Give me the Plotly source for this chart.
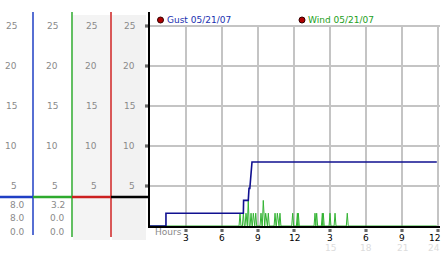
import plotly.graph_objects as go

W, H = 442, 253

# ---------------- data ----------------
gust_hours = [0, 1.33, 1.33, 7.78, 7.80, 8.19, 8.25, 8.32, 8.50, 23.9]
gust_vals = [0, 0, 1.6, 1.6, 3.2, 3.2, 4.7, 4.7, 8.0, 8.0]

wind_spike_hours = [7.5, 7.78, 8.0, 8.19, 8.42, 8.61, 8.81, 9.25, 9.44, 9.64, 9.86,
                    10.42, 10.61, 10.83, 11.89, 12.28, 12.36, 13.75, 13.89, 14.36,
                    14.44, 15.0, 15.42, 16.44]
wind_spike_vals = [1.6, 1.6, 1.6, 3.2, 1.6, 1.6, 1.6, 1.6, 3.2, 1.6, 1.6,
                   1.6, 1.6, 1.6, 1.6, 1.6, 1.6, 1.6, 1.6, 1.6,
                   1.6, 1.6, 1.6, 1.6]
wind_end_hour = 23.9

y_ticks = [5, 10, 15, 20, 25]
x_ticks = [3, 6, 9, 12, 15, 18, 21, 24]
x_tick_text = ["3", "6", "9", "12", "3", "6", "9", "12"]
x_sub_ticks = [15, 18, 21, 24]
x_sub_text = ["15", "18", "21", "24"]

gust_stats = ["8.0", "8.0", "0.0"]
wind_stats = ["3.2", "0.0", "0.0"]

legend_gust = "Gust 05/21/07"
legend_wind = "Wind 05/21/07"

# ---------------- helpers ----------------
def px(x):
    return x / W

def py(y):
    return 1 - y / H

# build wind line from spikes
spike_w = 0.08
wx, wy = [0], [0]
for t, v in zip(wind_spike_hours, wind_spike_vals):
    wx += [t - spike_w, t, t + spike_w]
    wy += [0, v, 0]
wx.append(wind_end_hour)
wy.append(0)

GRID = "#c4c4c4"
LBL = "#8a8a8a"
BLUE = "#1f3fc4"
GREEN = "#2eaa2e"
RED = "#cc2020"
FONT = "DejaVu Sans"
XMAX = 290 / 12

fig = go.Figure()
fig.add_trace(go.Scatter(x=wx, y=wy, mode="lines",
                         line=dict(color="#33b333", width=1), hoverinfo="skip"))
fig.add_trace(go.Scatter(x=gust_hours, y=gust_vals, mode="lines",
                         line=dict(color="#101090", width=1.6), hoverinfo="skip"))

shapes = []
# vertical grid lines from 0 to 25
for t in x_ticks:
    shapes.append(dict(type="line", xref="x", yref="y", x0=t, x1=t, y0=0, y1=max(y_ticks),
                       line=dict(color=GRID, width=2), layer="below"))
# tick glyphs (small checkered marks)
for v in y_ticks:
    shapes.append(dict(type="rect", xref="paper", yref="y", x0=px(145), x1=px(148),
                       y0=v - 0.2, y1=v + 0.2, fillcolor="#6a6a6a", line=dict(width=0)))
for t in x_ticks:
    shapes.append(dict(type="rect", xref="x", yref="paper", x0=t - 0.13, x1=t + 0.13,
                       y0=py(232), y1=py(229), fillcolor="#6a6a6a", line=dict(width=0)))

# left panel backgrounds
shapes.append(dict(type="rect", xref="paper", yref="paper", x0=px(73), x1=px(110),
                   y0=py(240), y1=py(15), fillcolor="#f4f4f4", line=dict(width=0), layer="below"))
shapes.append(dict(type="rect", xref="paper", yref="paper", x0=px(112), x1=px(146),
                   y0=py(240), y1=py(15), fillcolor="#f2f2f2", line=dict(width=0), layer="below"))
# column separators
for xx, col, yb in [(33, BLUE, 235), (72, GREEN, 237), (111, RED, 237)]:
    shapes.append(dict(type="line", xref="paper", yref="paper", x0=px(xx), x1=px(xx),
                       y0=py(yb), y1=py(12), line=dict(color=col, width=1.5)))
# horizontal marker bars
for x0, x1, col in [(0, 33, BLUE), (33, 72, GREEN), (72, 111, RED), (111, 150, "#000")]:
    shapes.append(dict(type="line", xref="paper", yref="paper", x0=px(x0), x1=px(x1),
                       y0=py(197), y1=py(197), line=dict(color=col, width=2.5)))
# legend dots
for cx in [160.5, 302]:
    shapes.append(dict(type="circle", xref="paper", yref="paper",
                       x0=px(cx - 3), x1=px(cx + 3), y0=py(23), y1=py(17),
                       fillcolor="#b00000", line=dict(color="#300", width=1)))

ann = []
# left panel y labels
for xr in [19, 60, 99, 137]:
    for v in y_ticks:
        ann.append(dict(xref="paper", yref="y", x=px(xr), y=v, text=str(v),
                        xanchor="right", yanchor="middle", showarrow=False,
                        font=dict(family=FONT, size=9, color=LBL)))
# stats
for xr, vals in [(27, gust_stats), (67, wind_stats)]:
    for yy, s in zip([205, 218, 232], vals):
        ann.append(dict(xref="paper", yref="paper", x=px(xr), y=py(yy), text=s,
                        xanchor="right", yanchor="middle", showarrow=False,
                        font=dict(family=FONT, size=9, color=LBL)))
# x tick labels (last one kept inside the page)
for t, s in zip(x_ticks, x_tick_text):
    last = t == x_ticks[-1]
    ann.append(dict(xref="paper" if last else "x", yref="paper",
                    x=1.0 if last else t, y=py(238), text=s,
                    xanchor="right" if last else "center", yanchor="middle", showarrow=False,
                    font=dict(family=FONT, size=9, color="#000")))
for t, s in zip(x_sub_ticks, x_sub_text):
    last = t == x_sub_ticks[-1]
    ann.append(dict(xref="paper" if last else "x", yref="paper",
                    x=1.0 if last else t, y=py(248), text=s,
                    xanchor="right" if last else "center", yanchor="middle", showarrow=False,
                    font=dict(family=FONT, size=9, color="#dcdcdc")))
ann.append(dict(xref="paper", yref="paper", x=px(153), y=py(232), text="Hours",
                xanchor="left", yanchor="middle", showarrow=False,
                font=dict(family=FONT, size=9, color=LBL)))
# legend texts
ann.append(dict(xref="paper", yref="paper", x=px(165), y=py(20), text=legend_gust,
                xanchor="left", yanchor="middle", showarrow=False,
                font=dict(family=FONT, size=9, color="#2030b0")))
ann.append(dict(xref="paper", yref="paper", x=px(306), y=py(20), text=legend_wind,
                xanchor="left", yanchor="middle", showarrow=False,
                font=dict(family=FONT, size=9, color="#22a022")))

fig.update_layout(
    width=W, height=H, margin=dict(l=0, r=0, t=0, b=0),
    paper_bgcolor="white", plot_bgcolor="white", showlegend=False,
    shapes=shapes, annotations=ann,
    xaxis=dict(domain=[px(150), px(440)], range=[0, XMAX], showgrid=False,
               zeroline=False, showticklabels=False, ticks="",
               showline=True, linecolor="#000", linewidth=2),
    yaxis=dict(domain=[py(226), py(12)], range=[0, 214 / 8], tickvals=y_ticks,
               showgrid=True, gridcolor=GRID, gridwidth=2, zeroline=False,
               showticklabels=False, ticks="",
               showline=True, linecolor="#000", linewidth=2),
)

fig.write_html("out.html")
